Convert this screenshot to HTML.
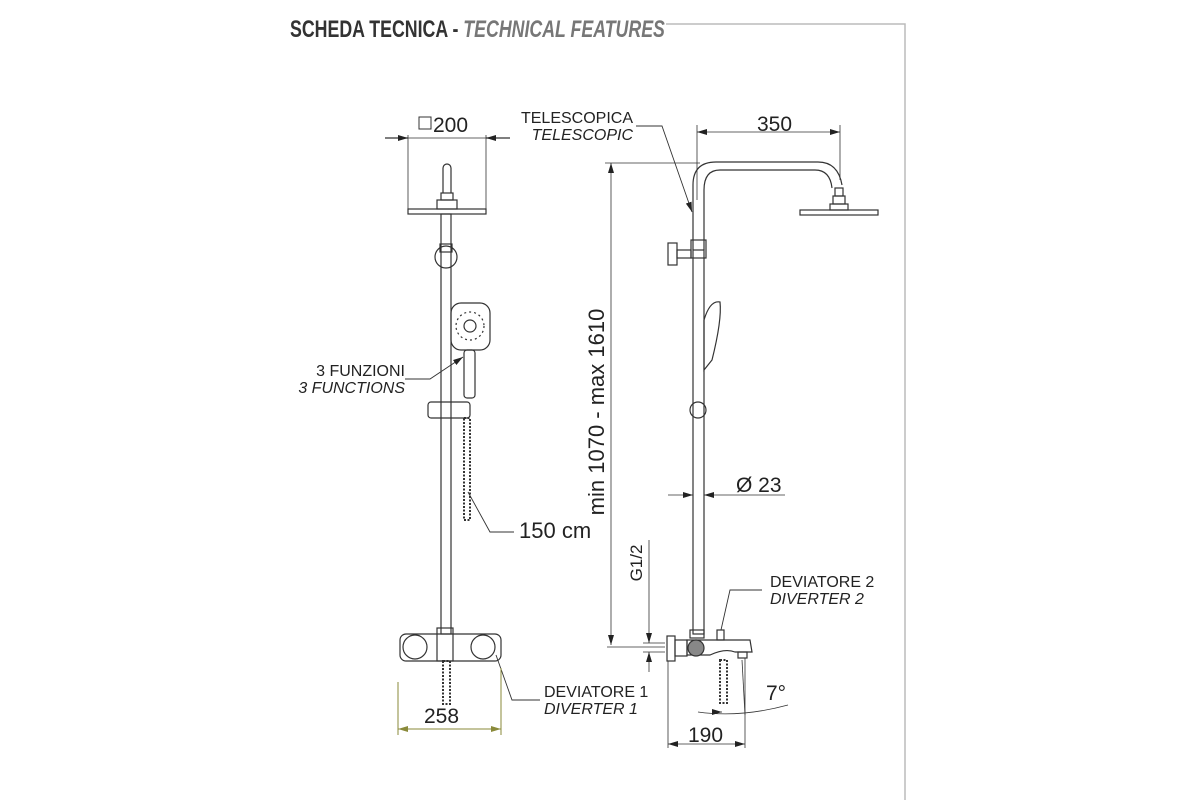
<!DOCTYPE html>
<html><head><meta charset="utf-8"><style>
html,body{margin:0;padding:0;background:#fff;width:1200px;height:800px;overflow:hidden}
svg{display:block}
.t{font-family:"Liberation Sans",sans-serif;fill:#222}
</style></head><body>
<svg width="1200" height="800" viewBox="0 0 1200 800" xmlns="http://www.w3.org/2000/svg">
<defs>
<marker id="a" viewBox="0 0 10 6" refX="10" refY="3" markerWidth="10" markerHeight="6" orient="auto-start-reverse" markerUnits="userSpaceOnUse"><path d="M0,0 L10,3 L0,6z" fill="#222"/></marker>
<marker id="g" viewBox="0 0 10 6" refX="10" refY="3" markerWidth="10" markerHeight="6" orient="auto-start-reverse" markerUnits="userSpaceOnUse"><path d="M0,0 L10,3 L0,6z" fill="#8a8a3a"/></marker>
</defs>
<!-- title -->
<text x="290" y="37" font-family="Liberation Sans Narrow,Liberation Sans,sans-serif" font-weight="bold" font-size="24" fill="#333" transform="translate(290 0) scale(0.74 1) translate(-290 0)">SCHEDA TECNICA - <tspan fill="#777" font-style="italic">TECHNICAL FEATURES</tspan></text>
<polyline points="666,24 905,24 905,800" fill="none" stroke="#bbb" stroke-width="1.5"/>

<g stroke="#333" stroke-width="1.2" fill="none">
<!-- LEFT: dim 200 -->
<line x1="408" y1="135" x2="408" y2="213" stroke-width="0.8"/>
<line x1="486" y1="135" x2="486" y2="213" stroke-width="0.8"/>
<line x1="385" y1="138" x2="408" y2="138" marker-end="url(#a)"/>
<line x1="510" y1="138" x2="486" y2="138" marker-end="url(#a)"/>
<line x1="408" y1="138" x2="486" y2="138" stroke-width="0.8"/>
<rect x="419" y="117" width="12" height="12" stroke-width="1"/>
<!-- head -->
<path d="M443,193 L443,168 A4,4 0 0 1 451,168 L451,193"/>
<rect x="441" y="193" width="12" height="7"/>
<rect x="437" y="200" width="20" height="9"/>
<rect x="408" y="209" width="78" height="5"/>
<!-- bar -->
<rect x="441" y="214" width="10" height="420"/>
<circle cx="446" cy="257" r="11"/>
<rect x="440" y="244" width="12" height="8"/>
<!-- hand shower -->
<rect x="451" y="303" width="39" height="47" rx="10"/>
<circle cx="470" cy="326" r="6"/>
<circle cx="470" cy="326" r="14" stroke-dasharray="2 3"/>
<rect x="464" y="350" width="11" height="48" rx="3"/>
<rect x="428" y="402" width="42" height="16" rx="3"/>
<rect x="464" y="418" width="6" height="102" stroke-dasharray="2 1.5" stroke-width="2"/>
<!-- leaders -->
<polyline points="405,379 430,379 463,357" stroke-width="0.9" marker-end="url(#a)"/>
<polyline points="468,492 490,532 514,532" stroke-width="0.9"/>
<!-- mixer left -->
<rect x="400" y="634" width="101" height="27" rx="6"/>
<circle cx="415" cy="647" r="12"/><circle cx="483" cy="647" r="12"/>
<rect x="437" y="628" width="16" height="33"/>
<rect x="443" y="661" width="7" height="43" stroke-dasharray="2 1.5" stroke-width="2"/>
<polyline points="496,655 512,700 540,700" stroke-width="0.9"/>
</g>
<g stroke="#8a8a3a" stroke-width="1" fill="none">
<line x1="398" y1="682" x2="398" y2="735"/>
<line x1="501" y1="668" x2="501" y2="735"/>
<line x1="398" y1="729" x2="501" y2="729" marker-start="url(#g)" marker-end="url(#g)"/>
</g>

<g stroke="#333" stroke-width="1.2" fill="none">
<!-- RIGHT: dim 350 -->
<line x1="697" y1="125" x2="697" y2="200" stroke-width="0.8"/>
<line x1="840" y1="125" x2="840" y2="180" stroke-width="0.8"/>
<line x1="697" y1="132" x2="840" y2="132" stroke-width="0.8" marker-start="url(#a)" marker-end="url(#a)"/>
<!-- pipe -->
<path d="M693,250 L693,185 Q693,162 716,162 L818,162 Q838,162 842,185"/>
<path d="M704,250 L704,190 Q704,170 720,170 L815,170 Q830,170 832,188"/>
<rect x="835" y="188" width="8" height="8"/>
<rect x="833" y="196" width="12" height="8"/>
<rect x="800" y="210" width="78" height="5"/>
<rect x="830" y="204" width="18" height="6"/>
<!-- telescopic leader -->
<polyline points="636,126 662,126 692,212" stroke-width="0.9" marker-end="url(#a)"/>
<!-- bar -->
<rect x="693" y="250" width="11" height="384"/>
<rect x="691" y="240" width="15" height="18"/>
<rect x="677" y="250" width="14" height="8"/>
<rect x="668" y="243" width="9" height="22"/>
<path d="M704,370 L704,320 Q710,300 720,302 Q722,320 712,360 Z"/>
<circle cx="698" cy="410" r="8"/>
<!-- vertical dim -->
<line x1="605" y1="163" x2="700" y2="163" stroke-width="0.8"/>
<line x1="611" y1="163" x2="611" y2="645" stroke-width="0.8" marker-start="url(#a)" marker-end="url(#a)"/>
<line x1="607" y1="647" x2="665" y2="647" stroke-width="0.8"/>
<!-- dia 23 -->
<line x1="668" y1="495" x2="693" y2="495" stroke-width="0.8" marker-end="url(#a)"/>
<line x1="785" y1="495" x2="704" y2="495" stroke-width="0.8" marker-end="url(#a)"/>
<!-- G1/2 -->
<line x1="649" y1="540" x2="649" y2="643" stroke-width="0.8" marker-end="url(#a)"/>
<line x1="649" y1="672" x2="649" y2="652" stroke-width="0.8" marker-end="url(#a)"/>
<line x1="643" y1="643" x2="665" y2="643" stroke-width="0.8"/>
<line x1="643" y1="652" x2="665" y2="652" stroke-width="0.8"/>
<!-- mixer right -->
<rect x="667" y="636" width="8" height="25"/>
<rect x="675" y="640" width="12" height="16"/>
<path d="M687,640 L750,640 L752,652 L735,652 Q725,648 710,655 L687,655 Z"/>
<circle cx="696" cy="648" r="8" fill="#888"/>
<rect x="690" y="630" width="14" height="8"/>
<rect x="717" y="630" width="7" height="10"/>
<rect x="738" y="652" width="9" height="6"/>
<rect x="720" y="660" width="7" height="43" stroke-dasharray="2 1.5" stroke-width="2"/>
<polyline points="721,630 730,590 762,590" stroke-width="0.9"/>
<!-- 190 -->
<line x1="668" y1="661" x2="668" y2="748" stroke-width="0.8"/>
<line x1="745" y1="658" x2="745" y2="748" stroke-width="0.8"/>
<line x1="668" y1="744" x2="745" y2="744" stroke-width="0.8" marker-start="url(#a)" marker-end="url(#a)"/>
<!-- 7 deg -->
<line x1="742" y1="660" x2="745" y2="715" stroke-width="0.8"/>
<path d="M698,712 Q740,718 788,705" stroke-width="0.8"/>
<line x1="712" y1="712" x2="722" y2="712" stroke-width="0.8" marker-end="url(#a)"/>
</g>

<!-- labels -->
<g class="t">
<text x="433" y="132" font-size="21">200</text>
<text x="405" y="376" font-size="16" text-anchor="end">3 FUNZIONI</text>
<text x="405" y="393" font-size="16" text-anchor="end" font-style="italic">3 FUNCTIONS</text>
<text x="519" y="538" font-size="22">150 cm</text>
<text x="424" y="723" font-size="21">258</text>
<text x="544" y="697" font-size="16">DEVIATORE 1</text>
<text x="544" y="714" font-size="16" font-style="italic">DIVERTER 1</text>
<text x="633" y="123" font-size="16" text-anchor="end">TELESCOPICA</text>
<text x="633" y="140" font-size="16" text-anchor="end" font-style="italic">TELESCOPIC</text>
<text x="757" y="131" font-size="21">350</text>
<text transform="translate(604 412) rotate(-90)" font-size="22" text-anchor="middle">min 1070 - max 1610</text>
<text x="736" y="492" font-size="21">Ø 23</text>
<text transform="translate(642 563) rotate(-90)" font-size="17" text-anchor="middle">G1/2</text>
<text x="770" y="587" font-size="16">DEVIATORE 2</text>
<text x="770" y="604" font-size="16" font-style="italic">DIVERTER 2</text>
<text x="766" y="700" font-size="21">7°</text>
<text x="688" y="742" font-size="21">190</text>
</g>
</svg>
</body></html>
